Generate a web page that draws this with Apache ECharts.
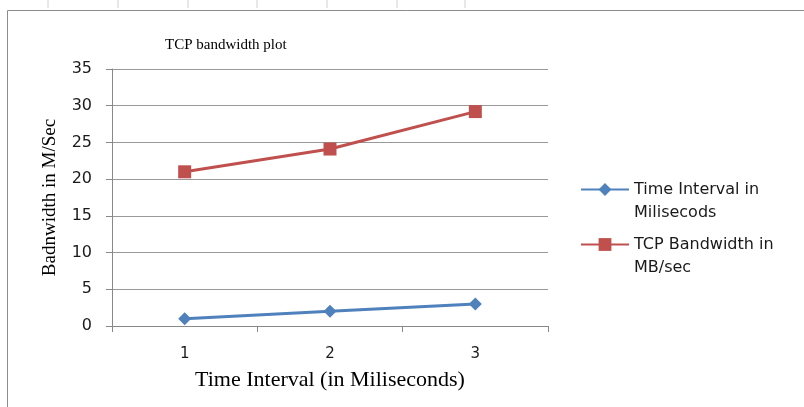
<!DOCTYPE html>
<html>
<head>
<meta charset="utf-8">
<script src="https://cdn.jsdelivr.net/npm/echarts@6/dist/echarts.min.js"></script>
<style>
  html, body { margin: 0; padding: 0; background: #fff; }
  #main { width: 804px; height: 407px; }
</style>
</head>
<body>
<div id="main"></div>
<script>
// data
var categories = ['1', '2', '3'];
var timeInterval = [1, 2, 3];
var tcpBandwidth = [21, 24.1, 29.2];
var seriesNames = ['Time Interval in\nMilisecods', 'TCP Bandwidth in\nMB/sec'];

var serif = '"Liberation Serif", "DejaVu Serif", serif';
var sans = '"DejaVu Sans", sans-serif';

var myChart = echarts.init(document.getElementById('main'));

// spreadsheet cell lines around the chart object
var sheetLines = [];
[48, 118, 188, 257, 327, 397, 465].forEach(function (x) {
    sheetLines.push({type: 'line', shape: {x1: x, y1: 0, x2: x, y2: 8}, style: {stroke: '#d0d0d0', lineWidth: 1}});
});

myChart.setOption({
    animation: false,
    title: {
        text: 'TCP bandwidth plot',
        left: 160,
        top: 33,
        textStyle: {fontFamily: serif, fontSize: 15, fontWeight: 'normal', color: '#000'}
    },
    legend: {
        orient: 'vertical',
        left: 575,
        top: 150,
        itemGap: -14,
        itemWidth: 48,
        itemHeight: 16,
        data: seriesNames,
        // blank first line so the icon sits beside the first text line
        formatter: function (name) { return '\u00a0\n' + name; },
        textStyle: {fontFamily: sans, fontSize: 16, color: '#1a1a1a', lineHeight: 23}
    },
    grid: {left: 112, right: 256, top: 69, bottom: 81},
    xAxis: {
        type: 'category',
        data: categories,
        boundaryGap: true,
        name: 'Time Interval (in Miliseconds)',
        nameLocation: 'middle',
        nameGap: 43,
        nameTextStyle: {fontFamily: serif, fontSize: 22, color: '#000'},
        axisLine: {lineStyle: {color: '#888'}},
        axisTick: {show: true, length: 6, lineStyle: {color: '#888'}},
        axisLabel: {fontFamily: sans, fontSize: 15, color: '#1a1a1a', margin: 21}
    },
    yAxis: {
        type: 'value',
        min: 0,
        max: 35,
        interval: 5,
        name: 'Badnwidth in M/Sec',
        nameLocation: 'middle',
        nameGap: 52,
        nameTextStyle: {fontFamily: serif, fontSize: 19, color: '#000'},
        axisLine: {show: true, lineStyle: {color: '#888'}},
        axisTick: {show: true, length: 6, lineStyle: {color: '#888'}},
        axisLabel: {fontFamily: sans, fontSize: 16, color: '#1a1a1a', margin: 20},
        splitLine: {lineStyle: {color: '#999'}}
    },
    series: [{
        name: seriesNames[0],
        type: 'line',
        data: timeInterval,
        symbol: 'diamond',
        symbolSize: 13,
        color: '#4F81BD',
        lineStyle: {width: 3}
    }, {
        name: seriesNames[1],
        type: 'line',
        data: tcpBandwidth,
        symbol: 'rect',
        symbolSize: 13,
        color: '#C0504D',
        lineStyle: {width: 3}
    }],
    graphic: sheetLines.concat([{
        type: 'rect',
        shape: {x: 7.5, y: 10.5, width: 810, height: 410},
        style: {fill: 'none', stroke: '#8c8c8c', lineWidth: 1}
    }])
});
</script>
</body>
</html>
